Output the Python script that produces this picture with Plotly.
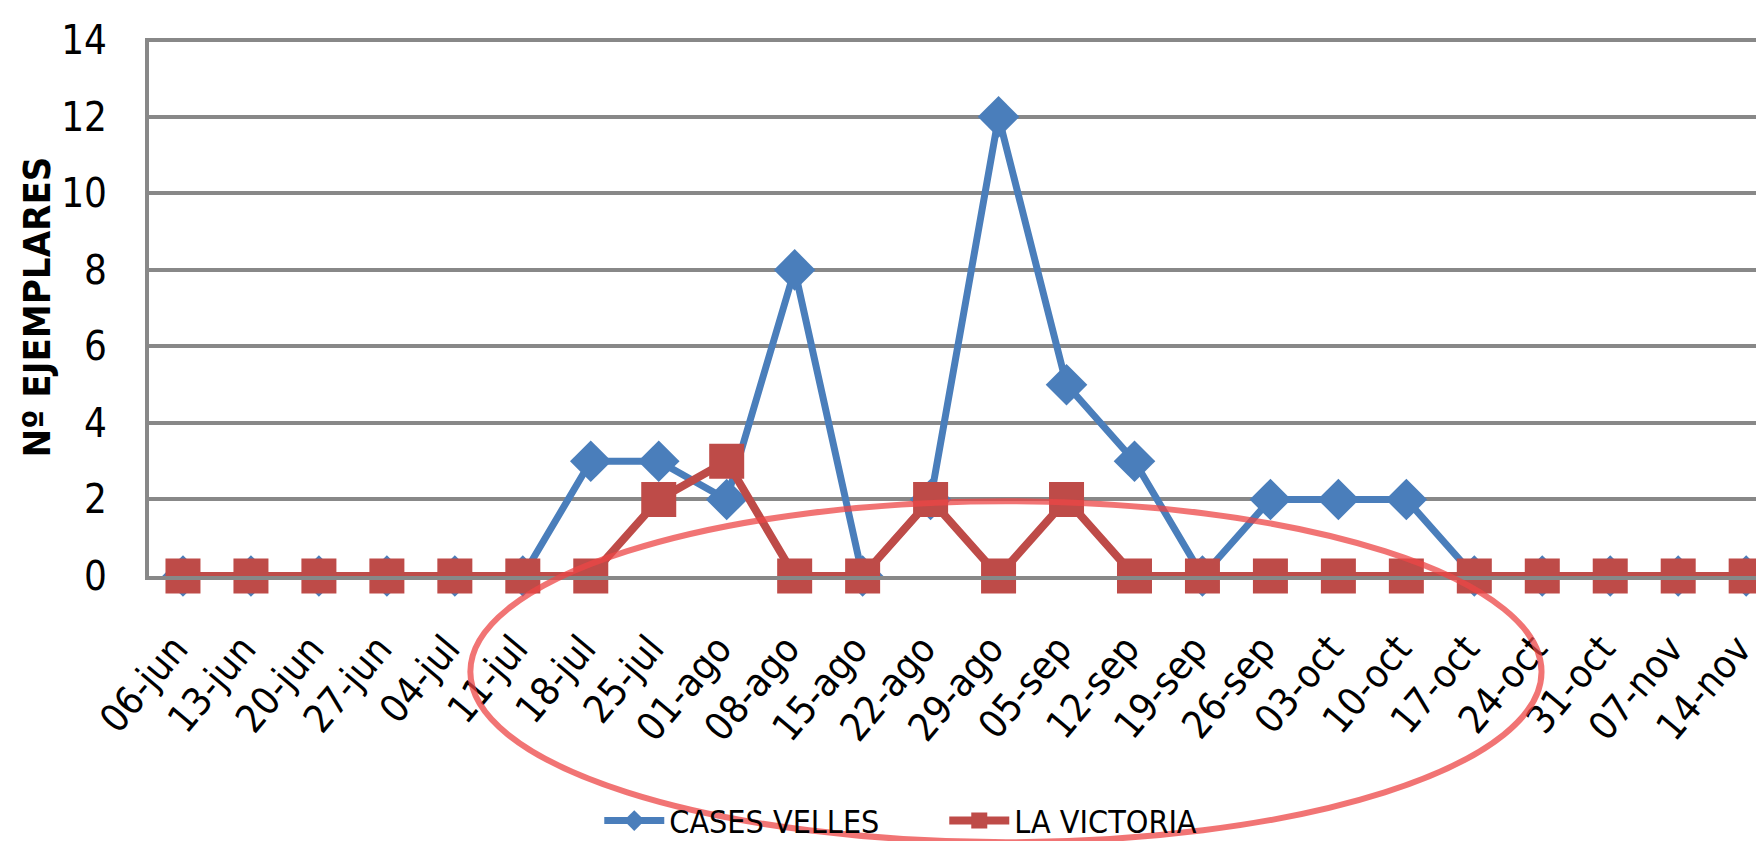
import plotly.graph_objects as go

fechas = ["06-jun", "13-jun", "20-jun", "27-jun", "04-jul", "11-jul", "18-jul", "25-jul",
          "01-ago", "08-ago", "15-ago", "22-ago", "29-ago", "05-sep", "12-sep", "19-sep",
          "26-sep", "03-oct", "10-oct", "17-oct", "24-oct", "31-oct", "07-nov", "14-nov"]
cases_velles = [0, 0, 0, 0, 0, 0, 3, 3, 2, 8, 0, 2, 12, 5, 3, 0, 2, 2, 2, 0, 0, 0, 0, 0]
la_victoria = [0, 0, 0, 0, 0, 0, 0, 2, 3, 0, 0, 2, 0, 2, 0, 0, 0, 0, 0, 0, 0, 0, 0, 0]
y_ticks = [0, 2, 4, 6, 8, 10, 12, 14]

FONT = "Liberation Sans Narrow, Arial Narrow, DejaVu Sans Condensed, sans-serif"
BLUE = "#4A7EBB"
RED = "#BE4B48"

fig = go.Figure()
fig.add_trace(go.Scatter(
    x=list(range(len(fechas))), y=cases_velles, name="CASES VELLES",
    mode="lines+markers", line=dict(color=BLUE, width=7),
    marker=dict(symbol="diamond", size=32, color=BLUE),
    cliponaxis=False))
fig.add_trace(go.Scatter(
    x=list(range(len(fechas))), y=la_victoria, name="LA VICTORIA",
    mode="lines+markers", line=dict(color=RED, width=8),
    marker=dict(symbol="square", size=35, color=RED),
    cliponaxis=False))

# highlighted region (red ellipse), in paper coordinates so it is not clipped
fig.add_shape(type="circle", xref="paper", yref="paper",
              x0=0.198, x1=0.858, y0=-0.495, y1=0.139,
              line=dict(color="rgba(236,70,70,0.75)", width=6), layer="above")

fig.update_layout(
    width=1764, height=841,
    margin=dict(l=141, r=0, t=30, b=265),
    paper_bgcolor="white", plot_bgcolor="white",
    font=dict(family=FONT, color="black"),
    showlegend=True,
    legend=dict(orientation="h", x=0.49, xanchor="center", y=-0.455, yanchor="middle",
                bgcolor="rgba(0,0,0,0)",
                font=dict(size=32, family=FONT), itemwidth=60, entrywidth=270,
                tracegroupgap=0),
    xaxis=dict(range=[-0.5, 23.38], tickmode="array",
               tickvals=list(range(len(fechas))), ticktext=fechas,
               tickangle=-50, tickfont=dict(size=39, family=FONT),
               ticklabelstandoff=30, ticklabelshift=-8,
               showgrid=False, zeroline=False, showline=True,
               linecolor="#888888", linewidth=4, ticks="", fixedrange=True),
    yaxis=dict(range=[0, 14.06], tickvals=y_ticks, tickfont=dict(size=40, family=FONT),
               showgrid=True, gridcolor="#888888", gridwidth=3.5,
               zeroline=False, showline=True, linecolor="#888888", linewidth=4,
               ticks="", ticklabelstandoff=30,
               title=dict(text="<b>Nº EJEMPLARES</b>", font=dict(size=38, family=FONT),
                          standoff=0)),
)

fig.write_html("out.html")
